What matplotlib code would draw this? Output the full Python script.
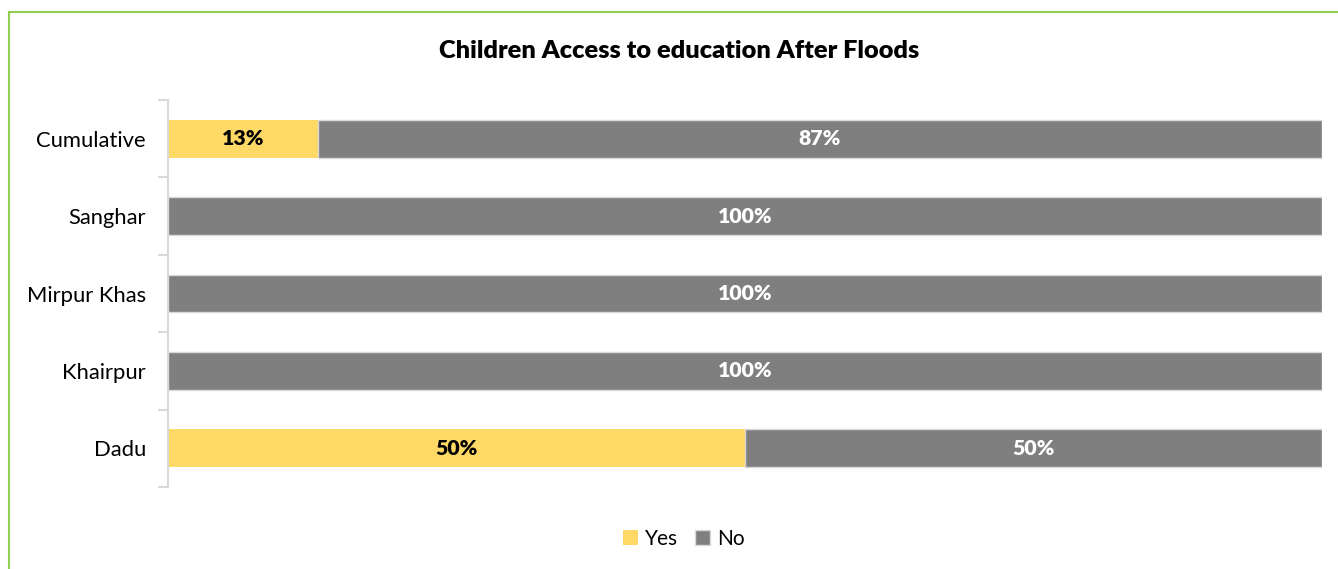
import matplotlib
matplotlib.use("Agg")
import matplotlib.pyplot as plt
from matplotlib.lines import Line2D

categories = ["Dadu", "Khairpur", "Mirpur Khas", "Sanghar", "Cumulative"]
yes_vals = [50, 0, 0, 0, 13]
no_vals = [50, 100, 100, 100, 87]
series_names = ["Yes", "No"]
colors = ["#FFD966", "#7F7F7F"]

plt.rcParams['font.family'] = ['Lato', 'DejaVu Sans']

W, H = 1338, 569
fig = plt.figure(figsize=(W/100, H/100), dpi=100)
ax = fig.add_axes([168/W, 1-487/H, (1322-168)/W, (487-100)/H])

y = list(range(len(categories)))
b1 = ax.barh(y, yes_vals, height=0.49, color=colors[0], label=series_names[0], edgecolor='none')
b2 = ax.barh(y, no_vals, left=yes_vals, height=0.49, color=colors[1], label=series_names[1],
             edgecolor='#D9D9D9', linewidth=1)

for i in y:
    if yes_vals[i] > 0:
        ax.text(yes_vals[i]/2, i, f"{yes_vals[i]}%", ha='center', va='center',
                fontsize=15.3, fontweight='heavy', color='black')
    if no_vals[i] > 0:
        ax.text(yes_vals[i] + no_vals[i]/2, i, f"{no_vals[i]}%", ha='center', va='center',
                fontsize=15.3, fontweight='heavy', color='white')

ax.set_xlim(0, 100)
ax.set_ylim(-0.5, len(categories)-0.5)
ax.set_yticks(y)
ax.set_yticklabels(categories, fontsize=15.8)
ax.tick_params(axis='y', which='major', length=0, pad=16)
ax.set_yticks([k - 0.5 for k in range(len(categories)+1)], minor=True)
ax.tick_params(axis='y', which='minor', length=7, color='#D9D9D9', width=1.5)
ax.set_xticks([])
for s in ['top', 'right', 'bottom']:
    ax.spines[s].set_visible(False)
ax.spines['left'].set_color('#D9D9D9')
ax.spines['left'].set_linewidth(1.5)

fig.text(679/W, 1-51/H, "Children Access to education After Floods", ha='center', va='center',
         fontsize=18.3, fontweight='heavy')

fig.legend(handles=[b1, b2], labels=series_names, loc='center', bbox_to_anchor=(684/W, 1-539/H),
           ncol=2, frameon=False, fontsize=15, handlelength=0.7, handleheight=0.7,
           handletextpad=0.35, columnspacing=0.8)

# green outer frame
fig.add_artist(Line2D([9/W, 1.0], [1-12/H, 1-12/H], transform=fig.transFigure, color='#92D050', lw=1.5))
fig.add_artist(Line2D([9/W, 9/W], [1-12/H, 0.0], transform=fig.transFigure, color='#92D050', lw=1.5))

fig.savefig("out.png", dpi=100)
